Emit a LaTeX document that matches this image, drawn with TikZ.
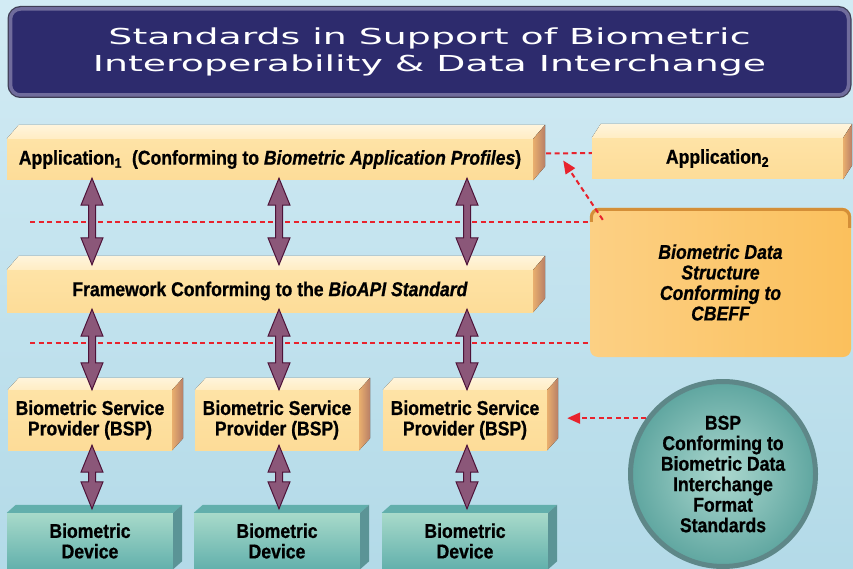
\documentclass[tikz,border=0pt]{standalone}
\usepackage{fontspec}
\setmainfont[FakeStretch=0.88, BoldFeatures={FakeBold=0.8}, BoldItalicFeatures={FakeBold=0.8}]{Liberation Sans}
\newfontfamily\titlefont[FakeStretch=1.72]{DejaVu Sans}
\usepackage{tikz}
\usetikzlibrary{calc, positioning, arrows.meta}

\definecolor{bgtop}{HTML}{D2EBF4}
\definecolor{bgbot}{HTML}{B3DAE8}
\definecolor{navy}{HTML}{2D2B6D}
\definecolor{navyrim}{HTML}{706C9C}
\definecolor{navyout}{HTML}{3E3D55}
\definecolor{slabhi}{HTML}{FEE3A6}
\definecolor{slablo}{HTML}{FDDC98}
\definecolor{slabtopc}{HTML}{FFEDC4}
\definecolor{slabside}{HTML}{E8AE6E}
\definecolor{slabsidedk}{HTML}{B77E66}
\definecolor{cbeffc}{HTML}{FBC05C}
\definecolor{cbefflt}{HTML}{FCD084}
\definecolor{cbeffrim}{HTML}{D48F38}
\definecolor{devhi}{HTML}{A8DACA}
\definecolor{devlo}{HTML}{62B0AC}
\definecolor{devtop}{HTML}{62AFAC}
\definecolor{devside}{HTML}{5B9496}
\definecolor{arrowfill}{HTML}{8B5779}
\definecolor{arrowedge}{HTML}{4E1339}
\definecolor{dashred}{HTML}{E8232D}
\definecolor{bsphi}{HTML}{ACD8CF}
\definecolor{bsplo}{HTML}{5FA6A0}
\definecolor{bsprim}{HTML}{5E8788}

\newcommand{\boxfont}{\fontsize{20}{20.5}\selectfont\bfseries}

% top and side faces of a 3d slab: node, dx, dy, top style, side style
\newcommand{\slabfaces}[5]{%
  \fill[#4] (#1.north west) -- ++(#2,-#3) -- ($(#1.north east)+(#2,-#3)$) -- (#1.north east) -- cycle;
  \fill[#5] (#1.north east) -- ($(#1.north east)+(#2,-#3)$) -- ($(#1.south east)+(#2,-#3)$) -- (#1.south east) -- cycle;
}

% fat double arrow between two named tips
\newcommand{\fatarrow}[2]{%
  \filldraw[arrowbody] (#1) -- ++(11,27) -- ++(-7.5,0) -- ($(#2)+(3.5,-27)$) -- ++(7.5,0) -- (#2)
    -- ++(-11,-27) -- ++(7.5,0) -- ($(#1)+(-3.5,27)$) -- ++(-7.5,0) -- cycle;
}

\tikzset{
  slab/.style={top color=slabhi, bottom color=slablo, draw=none, inner sep=0pt, align=center},
  slabtop/.style={top color=slabtopc!60!white, bottom color=slabtopc},
  slabside/.style={left color=slabside, right color=slabsidedk},
  device/.style={top color=devhi, bottom color=devlo, draw=none, inner sep=0pt, align=center},
  devtopface/.style={fill=devtop},
  devsideface/.style={fill=devside},
  reddash/.style={dashred, line width=2pt, dash pattern=on 5pt off 3.5pt},
  arrowbody/.style={fill=arrowfill, draw=arrowedge, line width=1pt, line join=miter},
  redtip/.style={-{Triangle[length=13pt, width=11pt]}},
}

\begin{document}
\begin{tikzpicture}[x=1pt, y=-1pt, font=\boxfont]
	\useasboundingbox (0,0) rectangle (853,569);
	\clip (0,0) rectangle (853,569);
	
	% Draw background
	\shade[top color=bgtop, bottom color=bgbot] (0,0) rectangle (853,569);
	
	% Draw title
	\node[fill=navy, draw=navyrim, line width=3.5pt, rounded corners=10pt,
	      preaction={draw=navyout, line width=6pt},
	      minimum width=838, minimum height=86, text=white, align=center,
	      font=\titlefont\fontsize{22}{27}\selectfont] (title) at (429.5,52)
	      {Standards in Support of Biometric\\Interoperability \& Data Interchange};
	
	% Draw CBEFF box and dashed cut lines
	\node[rounded corners=8pt, left color=cbefflt, right color=cbeffc,
	      minimum width=261, minimum height=149, align=center, font=\boxfont\itshape] (cbeff) at (720.5,282.5)
	      {Biometric Data\\Structure\\Conforming to\\CBEFF};
	\draw[cbeffrim, line width=3pt, rounded corners=8pt]
	      ($(cbeff.north west)+(1.5,14)$) -- ($(cbeff.north west)+(1.5,1.5)$) -- ($(cbeff.north east)+(-1.5,1.5)$) -- ($(cbeff.north east)+(-1.5,20)$);
	\coordinate (cut1) at (30,222);
	\coordinate (cut2) at (30,343);
	\draw[reddash] (cut1) -- (cut1 -| cbeff.west);
	\draw[reddash] (cut2) -- (cut2 -| cbeff.west);
	
	% Draw application slabs
	\node[slab, minimum width=526, minimum height=41] (app1) at (270,159.5)
	      {Application\textsubscript{1}\enspace(Conforming to \textit{Biometric Application Profiles})};
	\slabfaces{app1}{12}{14}{slabtop}{slabside}
	\node[slab, minimum width=251, minimum height=41] (app2) at (717.5,158.5) {Application\textsubscript{2}};
	\slabfaces{app2}{9}{14}{slabtop}{slabside}
	\draw[reddash] ($(app1.east)+(13,-6)$) -- ($(app2.west)+(0,-5.5)$);
	\draw[reddash, redtip] ($(cbeff.north west)+(13,12)$) -- ($(app1.east)+(30,1)$);
	
	% Draw framework slab
	\node[slab, minimum width=526, minimum height=42] (fw) at (270,291)
	      {Framework Conforming to the \textit{BioAPI Standard}};
	\slabfaces{fw}{12}{14}{slabtop}{slabside}
	
	% Draw BSP slabs and devices
	\foreach \n/\x in {1/90, 2/277, 3/465}{
		\node[slab, minimum width=164, minimum height=60] (bsp\n) at (\x,420)
		      {Biometric Service\\Provider (BSP)};
		\slabfaces{bsp\n}{11}{12}{slabtop}{slabside}
		\node[device, minimum width=166, minimum height=56] (dev\n) at (\x,541) {Biometric\\Device};
		\slabfaces{dev\n}{9}{8}{devtopface}{devsideface}
	}
	
	% Draw fat arrows
	\foreach \n in {1,2,3}{
		\path ($(app1.south -| bsp\n.north)+(2,-2)$) coordinate (aout\n)
		      ($(fw.north -| bsp\n.north)+(2,-5)$) coordinate (fwin\n)
		      ($(fw.south -| bsp\n.north)+(2,-3)$) coordinate (fwout\n)
		      ($(bsp\n.north)+(2,0)$) coordinate (bspin\n)
		      ($(bsp\n.south)+(2,-5)$) coordinate (bspout\n)
		      ($(dev\n.north)+(2,-4)$) coordinate (devin\n);
		\fatarrow{aout\n}{fwin\n}
		\fatarrow{fwout\n}{bspin\n}
		\fatarrow{bspout\n}{devin\n}
	}
	
	% Draw BSP standards circle
	\node[circle, draw=bsprim, line width=5pt, inner color=bsphi, outer color=bsplo,
	      minimum size=185, inner sep=0pt, align=center] (circ) at (723,474)
	      {BSP\\Conforming to\\Biometric Data\\Interchange\\Format\\Standards};
	\draw[reddash, redtip] (circ.144) -- ($(bsp3.east |- circ.144)+(20,0)$);
	
\end{tikzpicture}
\end{document}
